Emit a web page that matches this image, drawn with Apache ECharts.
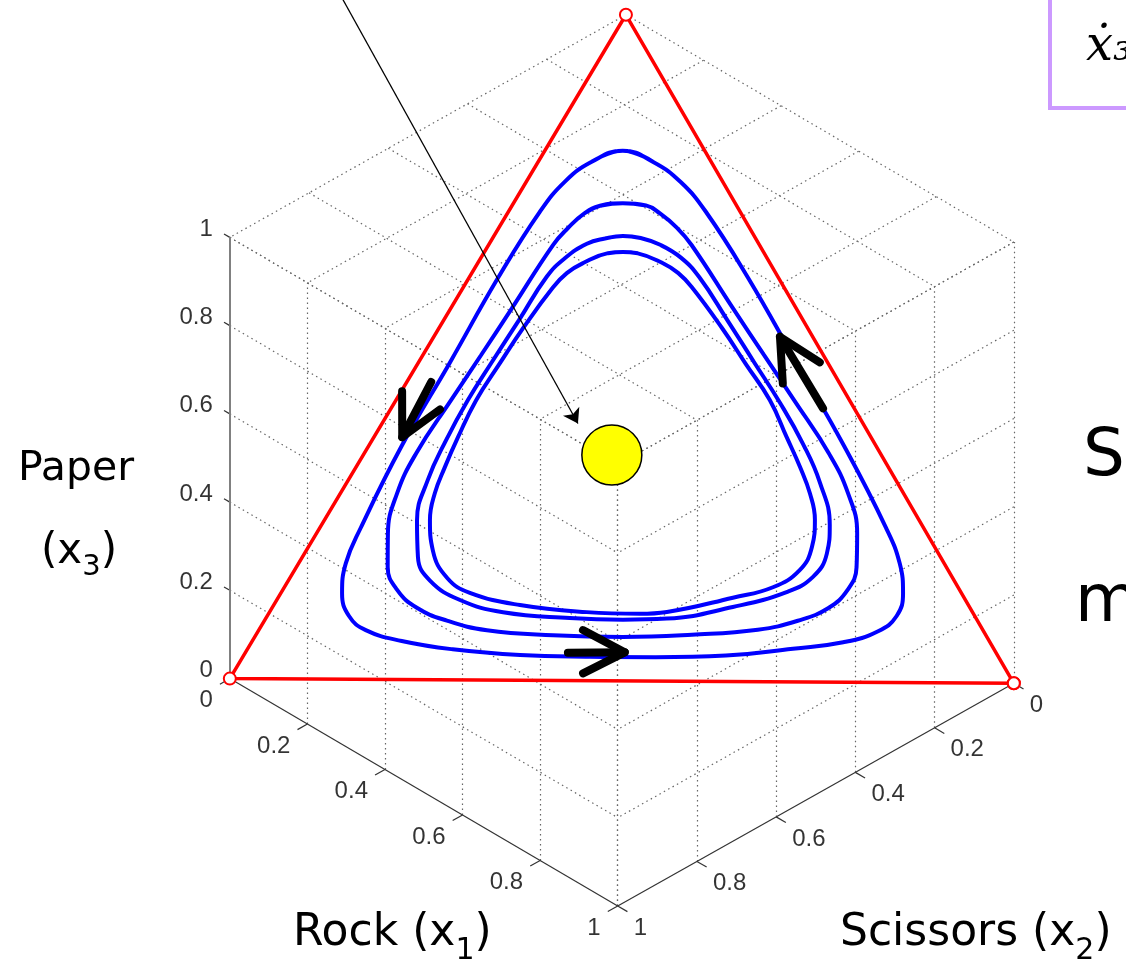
<!DOCTYPE html>
<html>
<head>
<meta charset="utf-8">
<script src="https://cdn.jsdelivr.net/npm/echarts@6/dist/echarts.min.js"></script>
<style>
  html, body { margin: 0; padding: 0; background: #fff; }
  #chart { width: 1126px; height: 963px; }
</style>
</head>
<body>
<div id="chart"></div>
<script>
// every point is [x1 (rock), x2 (scissors), x3 (paper)]
const ticks = [0, 0.2, 0.4, 0.6, 0.8, 1];
const tickLabels = ['0', '0.2', '0.4', '0.6', '0.8', '1'];
const vertices = [[1, 0, 0], [0, 1, 0], [0, 0, 1]];
const equilibrium = [0.316, 0.345, 0.339];

// closed orbits, outermost first
const orbitA = [[0.099,0.105,0.796],[0.068,0.153,0.779],[0.049,0.202,0.749],[0.040,0.257,0.703],[0.037,0.359,0.604],[0.040,0.483,0.477],[0.042,0.607,0.351],[0.052,0.720,0.228],[0.060,0.766,0.174],[0.078,0.793,0.129],[0.104,0.801,0.095],[0.136,0.790,0.074],[0.190,0.752,0.058],[0.261,0.693,0.046],[0.351,0.611,0.038],[0.441,0.523,0.036],[0.525,0.439,0.036],[0.613,0.348,0.039],[0.693,0.257,0.050],[0.752,0.188,0.060],[0.788,0.135,0.077],[0.800,0.100,0.100],[0.791,0.075,0.134],[0.764,0.057,0.179],[0.719,0.048,0.233],[0.604,0.041,0.355],[0.479,0.040,0.481],[0.355,0.039,0.606],[0.251,0.044,0.705],[0.197,0.054,0.749],[0.147,0.074,0.779]];
const orbitB = [[0.139,0.144,0.717],[0.112,0.175,0.713],[0.098,0.200,0.702],[0.088,0.233,0.679],[0.082,0.264,0.654],[0.078,0.364,0.559],[0.074,0.438,0.488],[0.070,0.510,0.420],[0.066,0.594,0.340],[0.072,0.648,0.280],[0.091,0.690,0.219],[0.116,0.715,0.169],[0.145,0.720,0.135],[0.184,0.708,0.108],[0.232,0.679,0.089],[0.290,0.635,0.075],[0.378,0.554,0.068],[0.468,0.466,0.066],[0.554,0.376,0.070],[0.634,0.288,0.078],[0.678,0.230,0.092],[0.707,0.182,0.111],[0.718,0.143,0.139],[0.712,0.115,0.173],[0.687,0.089,0.224],[0.645,0.071,0.284],[0.590,0.066,0.344],[0.506,0.071,0.423],[0.433,0.076,0.491],[0.358,0.081,0.561],[0.258,0.087,0.655],[0.226,0.093,0.681],[0.194,0.104,0.702],[0.170,0.116,0.714]];
const orbitC = [[0.164,0.168,0.668],[0.143,0.193,0.664],[0.124,0.220,0.656],[0.107,0.259,0.634],[0.098,0.296,0.606],[0.096,0.364,0.541],[0.093,0.429,0.478],[0.091,0.488,0.420],[0.094,0.546,0.360],[0.101,0.599,0.300],[0.118,0.643,0.239],[0.147,0.669,0.184],[0.180,0.671,0.149],[0.233,0.647,0.120],[0.297,0.601,0.102],[0.386,0.520,0.094],[0.455,0.453,0.092],[0.510,0.396,0.094],[0.585,0.303,0.112],[0.642,0.223,0.135],[0.664,0.178,0.158],[0.664,0.143,0.193],[0.646,0.118,0.236],[0.601,0.099,0.300],[0.550,0.092,0.358],[0.490,0.091,0.419],[0.426,0.094,0.480],[0.360,0.097,0.543],[0.292,0.101,0.607],[0.254,0.110,0.636],[0.218,0.127,0.655],[0.188,0.147,0.665]];
const orbitD = [[0.176,0.180,0.644],[0.158,0.200,0.642],[0.134,0.239,0.627],[0.121,0.267,0.612],[0.114,0.296,0.590],[0.107,0.364,0.529],[0.104,0.422,0.474],[0.102,0.478,0.420],[0.107,0.529,0.364],[0.113,0.568,0.319],[0.120,0.600,0.280],[0.134,0.626,0.240],[0.161,0.645,0.194],[0.200,0.647,0.153],[0.240,0.629,0.131],[0.313,0.574,0.113],[0.403,0.494,0.103],[0.472,0.427,0.101],[0.505,0.391,0.104],[0.578,0.296,0.126],[0.621,0.237,0.142],[0.642,0.190,0.168],[0.640,0.157,0.203],[0.623,0.133,0.244],[0.597,0.120,0.283],[0.564,0.113,0.323],[0.525,0.108,0.367],[0.475,0.102,0.423],[0.417,0.106,0.477],[0.360,0.110,0.531],[0.290,0.118,0.592],[0.262,0.125,0.613],[0.234,0.138,0.628],[0.196,0.162,0.642]];

// flow direction markers: [tail, tip, wing, wing]
const flowArrows = [
  [[0.031,0.522,0.447],[0.036,0.600,0.364],[0.001,0.566,0.433],[0.063,0.531,0.406]],
  [[0.549,0.040,0.411],[0.440,0.042,0.518],[0.479,0.073,0.448],[0.510,0.010,0.480]],
  [[0.410,0.548,0.042],[0.482,0.475,0.043],[0.412,0.512,0.076],[0.445,0.544,0.011]]
];
// thin pointer to the interior rest point
const pointer = [[-0.371,0.351,1.020],[0.249,0.365,0.386]];

// MATLAB-like camera
const view = { az: -45.6, el: -35, zScale: 0.971 };
const rad = Math.PI / 180;
const ca = Math.cos(view.az * rad), sa = Math.sin(view.az * rad);
const ce = Math.cos(view.el * rad), se = Math.sin(view.el * rad);
function P(p) {
  const [x, y, z] = p;
  return [ca * x + sa * y, -se * sa * x + se * ca * y + ce * view.zScale * z];
}
const seg = (a, b) => ({ coords: [P(a), P(b)] });

// dotted grid on the three back planes x1=1, x2=1, x3=1
const gridSegs = [];
ticks.forEach(t => {
  gridSegs.push(seg([1, t, 0], [1, t, 1]));
  gridSegs.push(seg([t, 0, 1], [t, 1, 1]));
  gridSegs.push(seg([0, t, 1], [1, t, 1]));
  if (t > 0) {
    gridSegs.push(seg([t, 1, 0], [t, 1, 1]));
    gridSegs.push(seg([0, 1, t], [1, 1, t]));
    gridSegs.push(seg([1, 0, t], [1, 1, t]));
  }
});

const axisSegs = [seg([0, 1, 0], [1, 1, 0]), seg([1, 0, 0], [1, 1, 0])];
const tickSegs = [];
ticks.forEach(t => {
  tickSegs.push(seg([0, 1, t], [-0.015, 1, t]));
  tickSegs.push(seg([t, 1, 0], [t, 1.025, 0]));
  tickSegs.push(seg([1, t, 0], [1.025, t, 0]));
});

function closed(pts) {
  const q = pts.map(P);
  return [q[q.length - 1], ...q, q[0], q[1]];
}

function orbit(pts) {
  return {
    type: 'line', data: closed(pts), symbol: 'none', smooth: 0.45, silent: true, z: 4,
    lineStyle: { color: '#0000ff', width: 4 }
  };
}

function tickSeries(pointOf, align, offset) {
  return {
    type: 'scatter', symbolSize: 1, silent: true, z: 3,
    itemStyle: { color: 'rgba(0,0,0,0)' },
    data: ticks.map((t, i) => ({ value: P(pointOf(t)), name: tickLabels[i] })),
    label: {
      show: true, position: 'inside', formatter: '{b}', align, verticalAlign: 'middle', offset,
      fontFamily: 'Liberation Sans', fontSize: 24, color: '#000'
    }
  };
}

const arrowSegs = [];
flowArrows.forEach(a => {
  arrowSegs.push({ coords: [P(a[0]), P(a[1])] });
  arrowSegs.push({ coords: [P(a[2]), P(a[1]), P(a[3])] });
});

const chart = echarts.init(document.getElementById('chart'), null, { renderer: 'canvas', width: 1126, height: 963 });
const fam = '"DejaVu Sans", sans-serif';

function labelText(x, y, main, sub, tail, size, align) {
  return {
    type: 'text', x, y, z: 10,
    style: {
      text: '{n|' + main + '}{s|' + sub + '}{n|' + tail + '}',
      align, verticalAlign: 'middle', fill: '#000',
      rich: {
        n: { fontSize: size, fontFamily: fam, lineHeight: size * 1.45, fill: '#000' },
        s: { fontSize: Math.round(size * 0.68), fontFamily: fam, lineHeight: Math.round(size * 0.68), verticalAlign: 'bottom', fill: '#000' }
      }
    }
  };
}

chart.setOption({
  animation: false,
  backgroundColor: '#fff',
  grid: { left: 0, right: 0, top: 0, bottom: 0 },
  xAxis: { type: 'value', min: -1.129, max: 0.902, show: false },
  yAxis: { type: 'value', min: -0.914, max: 0.822, show: false },
  series: [
    {
      type: 'lines', coordinateSystem: 'cartesian2d', silent: true, z: 1, data: gridSegs,
      lineStyle: { color: '#666', width: 1.2, type: [1.5, 3.5], opacity: 1 }
    },
    {
      type: 'lines', coordinateSystem: 'cartesian2d', silent: true, z: 2, data: axisSegs.concat(tickSegs),
      lineStyle: { color: '#333', width: 1.2, opacity: 1 }
    },
    {
      type: 'lines', coordinateSystem: 'cartesian2d', silent: true, z: 2, data: [seg([0, 1, 0], [0, 1, 1])],
      lineStyle: { color: '#808080', width: 2, opacity: 1 }
    },
    tickSeries(t => [0, 1, t], 'right', [-17, -8]),
    tickSeries(t => [t, 1, 0], 'right', [-17, 22]),
    tickSeries(t => [1, t, 0], 'left', [16, 22]),
    {
      type: 'line', data: [...vertices, vertices[0]].map(P), silent: true, z: 3,
      symbol: 'emptyCircle', symbolSize: 12, showAllSymbol: true,
      itemStyle: { color: '#ff0000', borderColor: '#ff0000', borderWidth: 2.5 },
      lineStyle: { color: '#ff0000', width: 3.5 }
    },
    orbit(orbitA), orbit(orbitB), orbit(orbitC), orbit(orbitD),
    {
      type: 'lines', coordinateSystem: 'cartesian2d', polyline: true, silent: true, z: 6, data: arrowSegs,
      lineStyle: { color: '#000', width: 8, opacity: 1, cap: 'round', join: 'round' }
    },
    {
      type: 'scatter', data: [P(equilibrium)], symbolSize: 60, silent: true, z: 6,
      itemStyle: { color: '#ffff00', borderColor: '#000', borderWidth: 1.5, opacity: 1 }
    },
    {
      type: 'lines', coordinateSystem: 'cartesian2d', silent: true, z: 7,
      data: [seg(pointer[0], pointer[1])],
      symbol: ['none', 'arrow'], symbolSize: 14,
      lineStyle: { color: '#000', width: 1.3, opacity: 1 }
    }
  ],
  graphic: [
    { type: 'text', x: 76, y: 469, z: 10, style: { text: 'Paper', font: '41px ' + fam, fill: '#000', align: 'center', verticalAlign: 'middle' } },
    labelText(79, 552, '(x', '3', ')', 42, 'center'),
    labelText(293, 934, 'Rock (x', '1', ')', 44, 'left'),
    labelText(840, 934, 'Scissors (x', '2', ')', 44, 'left'),
    { type: 'text', x: 1083, y: 458, z: 10, style: { text: 'St', font: '66px ' + fam, fill: '#000', align: 'left', verticalAlign: 'middle' } },
    { type: 'text', x: 1075, y: 604, z: 10, style: { text: 'mo', font: '66px ' + fam, fill: '#000', align: 'left', verticalAlign: 'middle' } },
    { type: 'rect', z: 10, shape: { x: 1050, y: -10, width: 130, height: 118 }, style: { fill: '#fff', stroke: '#cc99ff', lineWidth: 4 } },
    { type: 'text', x: 1086, y: 48, z: 11, style: { text: '\u1E8B\u2083', font: 'italic 48px "DejaVu Serif", serif', fill: '#000', align: 'left', verticalAlign: 'middle' } }
  ]
});
</script>
</body>
</html>
